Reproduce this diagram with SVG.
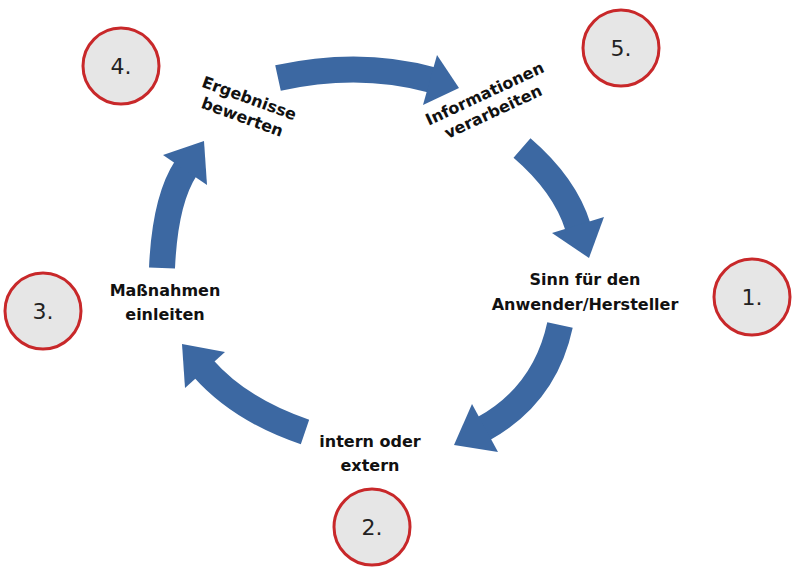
<svg xmlns="http://www.w3.org/2000/svg" width="800" height="574" viewBox="0 0 800 574">
<style>
.n{fill:#e6e6e6;stroke:#c8282a;stroke-width:3}
.nt{font-family:"DejaVu Sans",sans-serif;font-size:22px;fill:#222;text-anchor:middle}
.lb{font-family:"DejaVu Sans",sans-serif;font-size:16px;font-weight:bold;fill:#111;text-anchor:middle}
.b{fill:none;stroke:#3c68a2;stroke-width:26}
.h{fill:#3c68a2}
</style>
<rect width="800" height="574" fill="#fff"/>
<g id="connectors">
<path class="b" d="M278,78 Q360,60 432,80"/><polygon class="h" points="423,105 437,55 459,88"/>
<path class="b" d="M522,148 Q565,185 578,227"/><polygon class="h" points="604,217 552,233 589,258"/>
<path class="b" d="M560,325 Q545,395 483,429"/><polygon class="h" points="498,452 472,404 454,445"/>
<path class="b" d="M305,432 Q240,410 203,368"/><polygon class="h" points="225,352 185,388 182,344"/>
<path class="b" d="M162,268 Q165,200 186,168"/><polygon class="h" points="207,185 163,155 204,141"/>
</g>
<g id="n4"><circle class="n" cx="121" cy="66" r="38"/><text class="nt" x="121" y="74">4.</text></g>
<g id="n5"><circle class="n" cx="621" cy="48" r="38"/><text class="nt" x="621" y="56">5.</text></g>
<g id="n1"><circle class="n" cx="752" cy="297" r="38"/><text class="nt" x="752" y="305">1.</text></g>
<g id="n3"><circle class="n" cx="43" cy="311" r="38"/><text class="nt" x="43" y="319">3.</text></g>
<g id="n2"><circle class="n" cx="372" cy="527" r="38"/><text class="nt" x="372" y="535">2.</text></g>
<g id="l4" transform="rotate(20 245 110)"><text class="lb" x="245" y="103">Ergebnisse</text><text class="lb" x="245" y="123">bewerten</text></g>
<g id="l5" transform="rotate(-25 490 105)"><text class="lb" x="490" y="98">Informationen</text><text class="lb" x="490" y="118">verarbeiten</text></g>
<g id="l1"><text class="lb" x="585" y="285">Sinn für den</text><text class="lb" x="585" y="310">Anwender/Hersteller</text></g>
<g id="l3"><text class="lb" x="165" y="296">Maßnahmen</text><text class="lb" x="165" y="320">einleiten</text></g>
<g id="l2"><text class="lb" x="370" y="447">intern oder</text><text class="lb" x="370" y="471">extern</text></g>
</svg>
